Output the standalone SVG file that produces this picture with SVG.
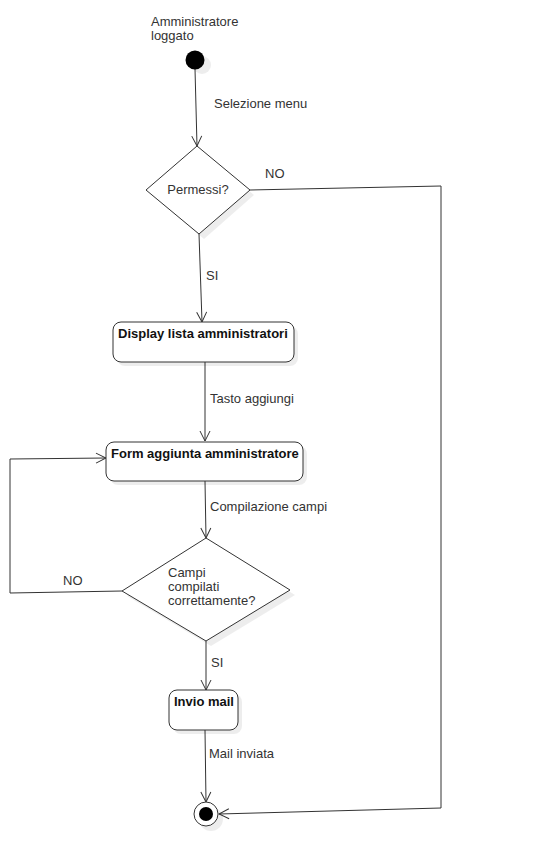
<svg xmlns="http://www.w3.org/2000/svg" width="541" height="867" viewBox="0 0 541 867">
  <style>
    .lbl { font-family: "Liberation Sans", Arial, sans-serif; font-size: 13px; fill: #333333; }
    .bold { font-family: "Liberation Sans", Arial, sans-serif; font-size: 13px; font-weight: bold; fill: #111111; }
    .edge { fill: none; stroke: #333333; stroke-width: 1; }
    .shape { fill: #ffffff; stroke: #333333; stroke-width: 1; }
    .shadow { fill: #000000; fill-opacity: 0.07; stroke: none; }
  </style>
  <defs>
    <marker id="open" viewBox="0 0 12 12" refX="11" refY="6" markerWidth="12" markerHeight="12" markerUnits="userSpaceOnUse" orient="auto">
      <path d="M1,1 L11,6 L1,11" fill="none" stroke="#333333" stroke-width="1"/>
    </marker>
  </defs>
  <rect width="541" height="867" fill="#ffffff"/>

  <!-- connectors -->
  <g id="connectors">
    <path class="edge" d="M195,69 L197,146" marker-end="url(#open)"/>
    <path class="edge" d="M250,190 L441,186 L441,808 L219,814" marker-end="url(#open)"/>
    <path class="edge" d="M199,234 L202,322" marker-end="url(#open)"/>
    <path class="edge" d="M205,362 L205,441" marker-end="url(#open)"/>
    <path class="edge" d="M205,481 L206,538" marker-end="url(#open)"/>
    <path class="edge" d="M122,591 L10,593 L10,459 L106,458" marker-end="url(#open)"/>
    <path class="edge" d="M206,641 L206,690" marker-end="url(#open)"/>
    <path class="edge" d="M205,730 L206,802" marker-end="url(#open)"/>
    <text class="lbl" x="214" y="108">Selezione menu</text>
    <text class="lbl" x="265" y="178">NO</text>
    <text class="lbl" x="206" y="280">SI</text>
    <text class="lbl" x="210" y="403">Tasto aggiungi</text>
    <text class="lbl" x="210" y="511">Compilazione campi</text>
    <text class="lbl" x="63" y="585">NO</text>
    <text class="lbl" x="211" y="667">SI</text>
    <text class="lbl" x="209" y="758">Mail inviata</text>
  </g>

  <!-- initial state -->
  <g id="start">
    <text class="lbl" x="151" y="26">Amministratore</text>
    <text class="lbl" x="151" y="40">loggato</text>
    <circle class="shadow" cx="202" cy="65" r="9"/>
    <circle cx="195" cy="60" r="9.5" fill="#000000"/>
  </g>

  <!-- decision: permessi -->
  <g id="permessi">
    <polygon class="shadow" points="202,151 254,195 204,239 152,195"/>
    <polygon class="shape" points="197,146 250,190 199,234 146,190"/>
    <text class="lbl" x="198" y="194" text-anchor="middle">Permessi?</text>
  </g>

  <!-- action: display lista -->
  <g id="display-lista">
    <rect class="shadow" x="117" y="326" width="181" height="40" rx="8"/>
    <rect class="shape" x="113" y="322" width="181" height="40" rx="8"/>
    <text class="bold" x="118" y="338">Display lista amministratori</text>
  </g>

  <!-- action: form aggiunta -->
  <g id="form-aggiunta">
    <rect class="shadow" x="110" y="446" width="197" height="39" rx="8"/>
    <rect class="shape" x="106" y="442" width="197" height="39" rx="8"/>
    <text class="bold" x="111" y="458">Form aggiunta amministratore</text>
  </g>

  <!-- decision: campi compilati -->
  <g id="campi-compilati">
    <polygon class="shadow" points="211,543 295,595 211,646 127,596"/>
    <polygon class="shape" points="206,538 290,590 206,641 122,591"/>
    <text class="lbl" x="168" y="577">Campi</text>
    <text class="lbl" x="168" y="591">compilati</text>
    <text class="lbl" x="168" y="605">correttamente?</text>
  </g>

  <!-- action: invio mail -->
  <g id="invio-mail">
    <rect class="shadow" x="173" y="694" width="69" height="40" rx="8"/>
    <rect class="shape" x="169" y="690" width="69" height="40" rx="8"/>
    <text class="bold" x="174" y="706">Invio mail</text>
  </g>

  <!-- final state -->
  <g id="end">
    <circle class="shadow" cx="211" cy="819" r="12"/>
    <circle class="shape" cx="206" cy="814" r="12"/>
    <circle cx="206" cy="814" r="7" fill="#000000"/>
  </g>
</svg>
